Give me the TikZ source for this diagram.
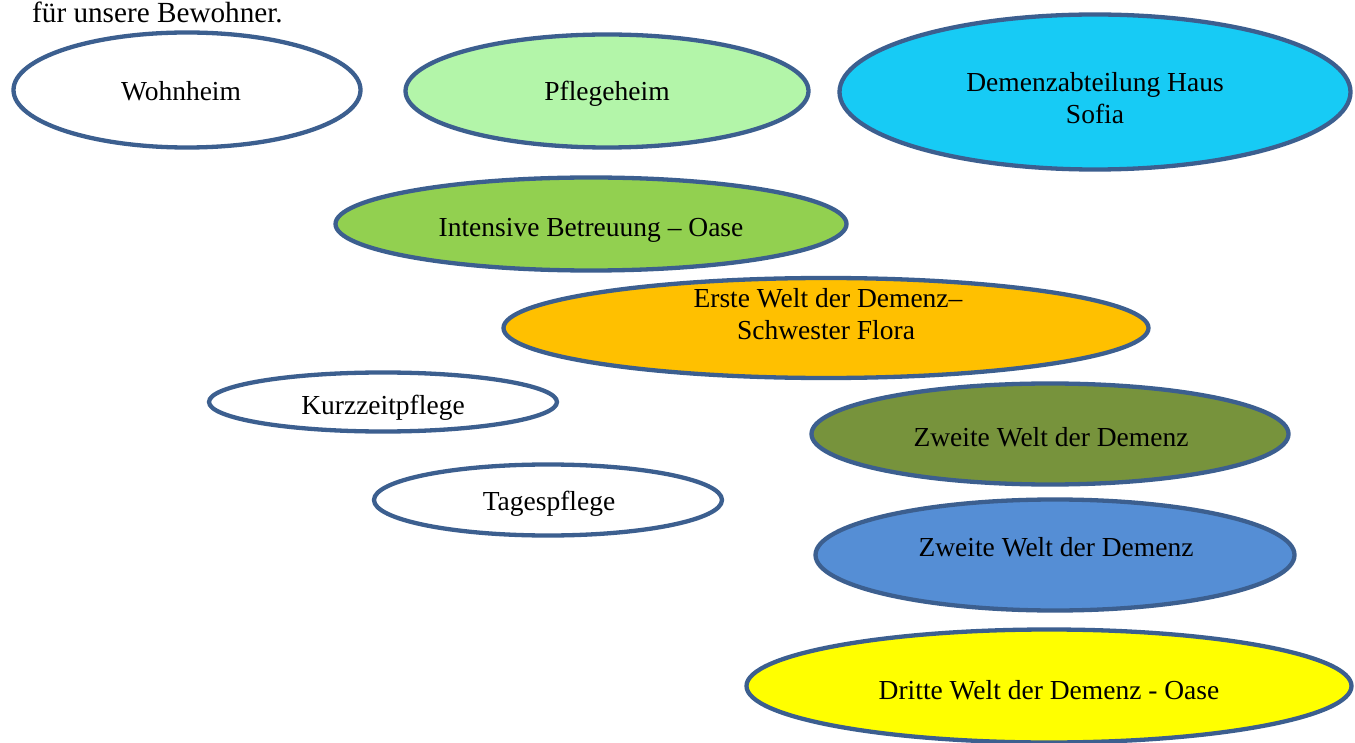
\documentclass[tikz,border=0pt]{standalone}
\usepackage{fontspec}
\setmainfont{Liberation Serif}
\usetikzlibrary{shapes.geometric}
\definecolor{edge}{HTML}{3C5F8F}
\definecolor{cPflege}{HTML}{B3F5A9}
\definecolor{cDemenz}{HTML}{17CBF5}
\definecolor{cIntens}{HTML}{92D050}
\definecolor{cErste}{HTML}{FFC000}
\definecolor{cZweiteA}{HTML}{77933C}
\definecolor{cZweiteB}{HTML}{558ED5}
\definecolor{cDritte}{HTML}{FFFF00}
\begin{document}
\begin{tikzpicture}[x=1pt,y=-1pt,
  oval/.style={ellipse, draw=edge, line width=4.3pt, inner sep=0pt, outer sep=0pt},
  lbl/.style={anchor=base, font=\fontsize{27.5}{32}\selectfont, align=center, inner sep=0pt}]
\clip (0,0) rectangle (1355,743);
\fill[white] (0,0) rectangle (1355,743);
\node[anchor=base west, inner sep=0pt, font=\fontsize{29.2}{32}\selectfont] (head) at (32,23) {für unsere Bewohner.};
% ellipses
\node[oval, fill=white,    minimum width=347, minimum height=115] (wohn) at (187,90) {};
\node[oval, fill=cPflege,  minimum width=403, minimum height=113] (pflege) at (607,91) {};
\node[oval, fill=cDemenz,  minimum width=511, minimum height=155] (demenz) at (1095,92) {};
\node[oval, fill=cIntens,  minimum width=511, minimum height=93] (intens) at (591,224) {};
\node[oval, fill=cErste,   minimum width=645, minimum height=100] (erste) at (826,328) {};
\node[oval, fill=white,    minimum width=348, minimum height=59] (kurz) at (383,402) {};
\node[oval, fill=white,    minimum width=348, minimum height=71] (tages) at (548,500) {};
\node[oval, fill=cZweiteA, minimum width=477, minimum height=101] (zweiteA) at (1050,434) {};
\node[oval, fill=cZweiteB, minimum width=479, minimum height=111] (zweiteB) at (1055,555) {};
\node[oval, fill=cDritte,  minimum width=605, minimum height=113] (dritte) at (1049,686) {};
% labels
\node[lbl] (wohnT) at (181,101) {Wohnheim};
\node[lbl] (pflegeT) at (607,101) {Pflegeheim};
\node[lbl] (demenzT1) at (1095,92) {Demenzabteilung Haus};
\node[lbl] (demenzT2) at (1095,124) {Sofia};
\node[lbl] (intensT) at (591,237) {Intensive Betreuung – Oase};
\node[lbl] (ersteT1) at (828,308) {Erste Welt der Demenz–};
\node[lbl] (ersteT2) at (826,340) {Schwester Flora};
\node[lbl] (kurzT) at (383,414) {Kurzzeitpflege};
\node[lbl] (tagesT) at (549,510) {Tagespflege};
\node[lbl] (zweiteAT) at (1051,446) {Zweite Welt der Demenz};
\node[lbl] (zweiteBT) at (1056,556) {Zweite Welt der Demenz};
\node[lbl] (dritteT) at (1049,699) {Dritte Welt der Demenz - Oase};
\end{tikzpicture}
\end{document}
